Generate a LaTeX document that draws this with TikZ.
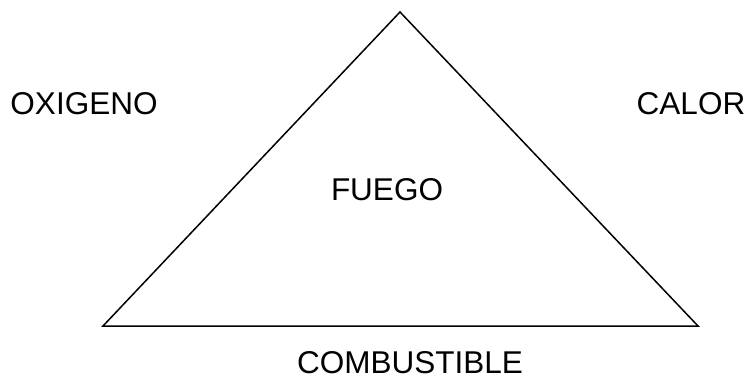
\documentclass[tikz,border=0pt]{standalone}
\usepackage{fontspec}
\setmainfont{Liberation Sans}
\begin{document}
\begin{tikzpicture}[x=1pt,y=-1pt,
  lbl/.style={anchor=base,inner sep=0pt,font=\fontsize{31.5}{36}\selectfont},
  edge/.style={line width=1.5pt,line join=miter}]
\useasboundingbox (0,0) rectangle (749,385);
\coordinate (apex) at (400,12);
\coordinate (bl) at (103,326);
\coordinate (br) at (698,326);
\draw[edge] (apex) -- (bl) -- (br) -- cycle;
\node[lbl] (ox) at (84,115) {OXIGENO};
\node[lbl] (ca) at (691,115) {CALOR};
\node[lbl] (fu) at (387,200) {FUEGO};
\node[lbl] (co) at (410,373) {COMBUSTIBLE};
\end{tikzpicture}
\end{document}
